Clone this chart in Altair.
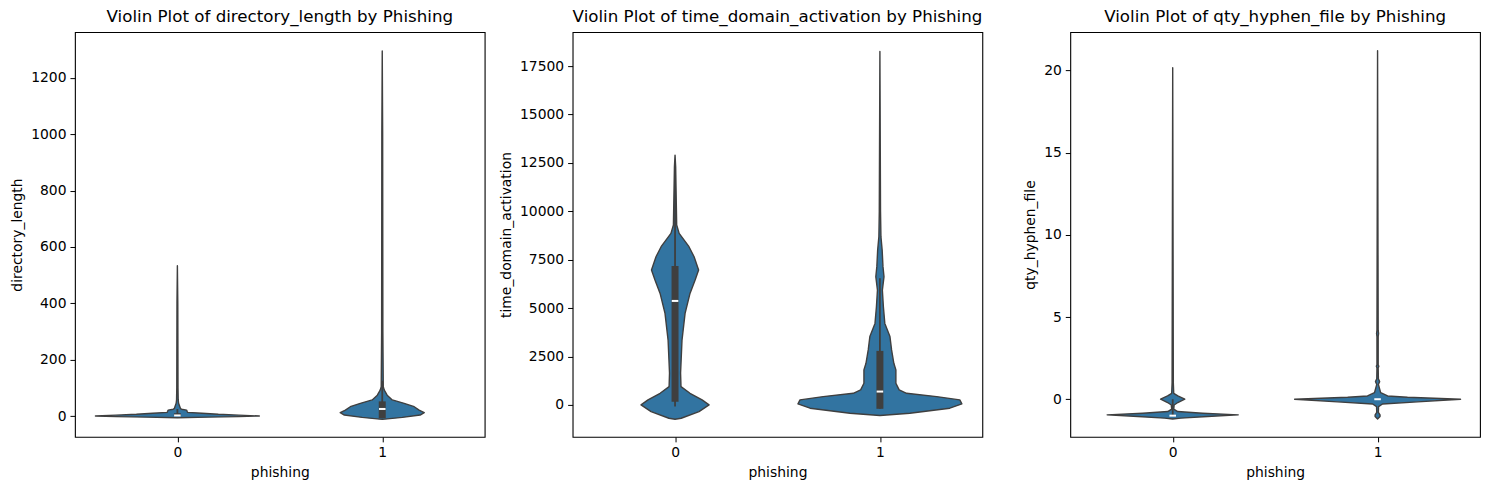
import altair as alt
import pandas as pd

FILL = "#3274a1"
LINE = "#3f3f3f"
FONT = "DejaVu Sans"

cats = [0, 1]

# directory_length: violin outline read as (value, half width in category units)
dl_val_0 = [533, 400, 100, 57, 45, 27, 24, 21, 16, 13, 10, 6, 3, 0, -2, -4, -6]
dl_hw_0 = [0, 0.002, 0.003, 0.004, 0.006, 0.015, 0.02, 0.045, 0.048, 0.05, 0.12, 0.2, 0.3, 0.40, 0.3, 0.15, 0]
dl_val_1 = [1295, 1000, 300, 104, 92, 74, 57, 45, 33, 21, 12, 3.5, -5, -12]
dl_hw_1 = [0, 0.002, 0.003, 0.005, 0.01, 0.024, 0.049, 0.107, 0.156, 0.18, 0.205, 0.185, 0.098, 0]

# time_domain_activation
tda_val_0 = [12900, 12300, 9290, 8860, 8170, 7650, 6970, 6450, 5760, 4730, 3350, 1650, 945, 600, 260, 0, -345, -690, -740]
tda_hw_0 = [0, 0.003, 0.008, 0.02, 0.068, 0.093, 0.115, 0.098, 0.073, 0.049, 0.034, 0.027, 0.029, 0.073, 0.132, 0.166, 0.117, 0.03, 0]
tda_val_1 = [18250, 10000, 8690, 8000, 7140, 6620, 5930, 5070, 4210, 3530, 2840, 2150, 1810, 1120, 775, 600, 430, 260, 52, -170, -430, -550]
tda_hw_1 = [0, 0.003, 0.005, 0.011, 0.015, 0.02, 0.012, 0.017, 0.024, 0.049, 0.057, 0.068, 0.078, 0.078, 0.094, 0.13, 0.277, 0.39, 0.40, 0.341, 0.146, 0]

# qty_hyphen_file
qhf_val_0 = [20.16, 1.0, 0.36, 0.2, 0.0, -0.2, -0.35, -0.6, -0.75, -0.85, -0.95, -1.05, -1.15, -1.2]
qhf_hw_0 = [0, 0.003, 0.005, 0.025, 0.059, 0.025, 0.007, 0.005, 0.024, 0.146, 0.32, 0.17, 0.039, 0]
qhf_val_1 = [21.2, 4.2, 4.0, 3.8, 2.1, 2.0, 1.9, 1.25, 1.07, 0.9, 0.4, 0.2, 0.12, 0.0, -0.16, -0.29, -0.45, -0.8, -0.95, -1.05, -1.2]
qhf_hw_1 = [0, 0.003, 0.005, 0.003, 0.003, 0.006, 0.003, 0.004, 0.01, 0.004, 0.015, 0.049, 0.146, 0.405, 0.195, 0.024, 0.005, 0.004, 0.012, 0.012, 0]

# inner box stats per class: q1, q3, median, whisker low, whisker high
dl_box = {"q1": [0, -8], "q3": [10, 52], "med": [2, 25], "wlo": [0, -8], "whi": [25, 125]}
tda_box = {"q1": [170, -200], "q3": [7170, 2790], "med": [5370, 690], "wlo": [-85, -200], "whi": [12300, 6540]}
qhf_box = {"q1": [-1, 0], "q3": [-1, 0], "med": [-1, 0], "wlo": [-1, 0], "whi": [0, 0]}


def violin_table(vals, hws):
    rows = []
    for cat, v, h in zip(cats, vals, hws):
        rows += [{"cat": cat, "value": a, "hw": b} for a, b in zip(v, h)]
    return pd.DataFrame(rows)


def panel(feature, vals, hws, box, domain, ticks, width=410, height=405):
    xs = alt.Scale(domain=[-0.5, 1.5], nice=False)
    ys = alt.Scale(domain=domain, nice=False, zero=False)
    yax = alt.Axis(values=ticks, format="d")
    xax = alt.Axis(values=cats, format="d")

    def xe(field):
        return alt.X(field, scale=xs, title="phishing", axis=xax)

    def ye(field):
        return alt.Y(field, scale=ys, title=feature, axis=yax)

    shape = alt.Chart(violin_table(vals, hws)).transform_calculate(
        left="datum.cat - datum.hw", right="datum.cat + datum.hw"
    ).mark_area(orient="horizontal", fill=FILL, stroke=LINE, strokeWidth=1.4,
                fillOpacity=1, strokeJoin="round").encode(
        y=ye("value:Q"), x=xe("left:Q"), x2="right:Q", detail="cat:N",
    )
    stats = pd.DataFrame({"cat": cats, **box})
    base = alt.Chart(stats)
    whisk = base.mark_rule(color=LINE, strokeWidth=1.8).encode(
        x=xe("cat:Q"), y=ye("wlo:Q"), y2="whi:Q")
    body = base.mark_rule(color=LINE, strokeWidth=7).encode(
        x=xe("cat:Q"), y=ye("q1:Q"), y2="q3:Q")
    med = base.transform_calculate(
        ml="datum.cat - 0.016", mr="datum.cat + 0.016"
    ).mark_rule(color="white", strokeWidth=2).encode(
        x=xe("ml:Q"), x2="mr:Q", y=ye("med:Q"))
    return alt.layer(shape, whisk, body, med).properties(
        width=width, height=height,
        title=f"Violin Plot of {feature} by Phishing")


p1 = panel("directory_length", [dl_val_0, dl_val_1], [dl_hw_0, dl_hw_1], dl_box,
           [-74, 1362], [0, 200, 400, 600, 800, 1000, 1200])
p2 = panel("time_domain_activation", [tda_val_0, tda_val_1], [tda_hw_0, tda_hw_1], tda_box,
           [-1650, 19250], [0, 2500, 5000, 7500, 10000, 12500, 15000, 17500])
p3 = panel("qty_hyphen_file", [qhf_val_0, qhf_val_1], [qhf_hw_0, qhf_hw_1], qhf_box,
           [-2.29, 22.33], [0, 5, 10, 15, 20])

chart = alt.hconcat(p1, p2, p3, spacing=88, bounds="flush").properties(
    padding={"left": 2, "top": 0, "right": 0, "bottom": 0}
).configure_view(
    stroke="black", strokeWidth=1.1
).configure_axis(
    labelFont=FONT, labelFontSize=13.9, labelColor="black",
    titleFont=FONT, titleFontSize=13.9, titleFontWeight="normal", titleColor="black",
    tickColor="black", tickSize=5, tickWidth=1, labelPadding=4,
    titlePadding=6, domain=False, grid=False,
).configure_title(
    font=FONT, fontSize=16.7, fontWeight="normal", color="black", offset=6
)

chart.save("out.html", embed_options={"renderer": "svg", "actions": False})
